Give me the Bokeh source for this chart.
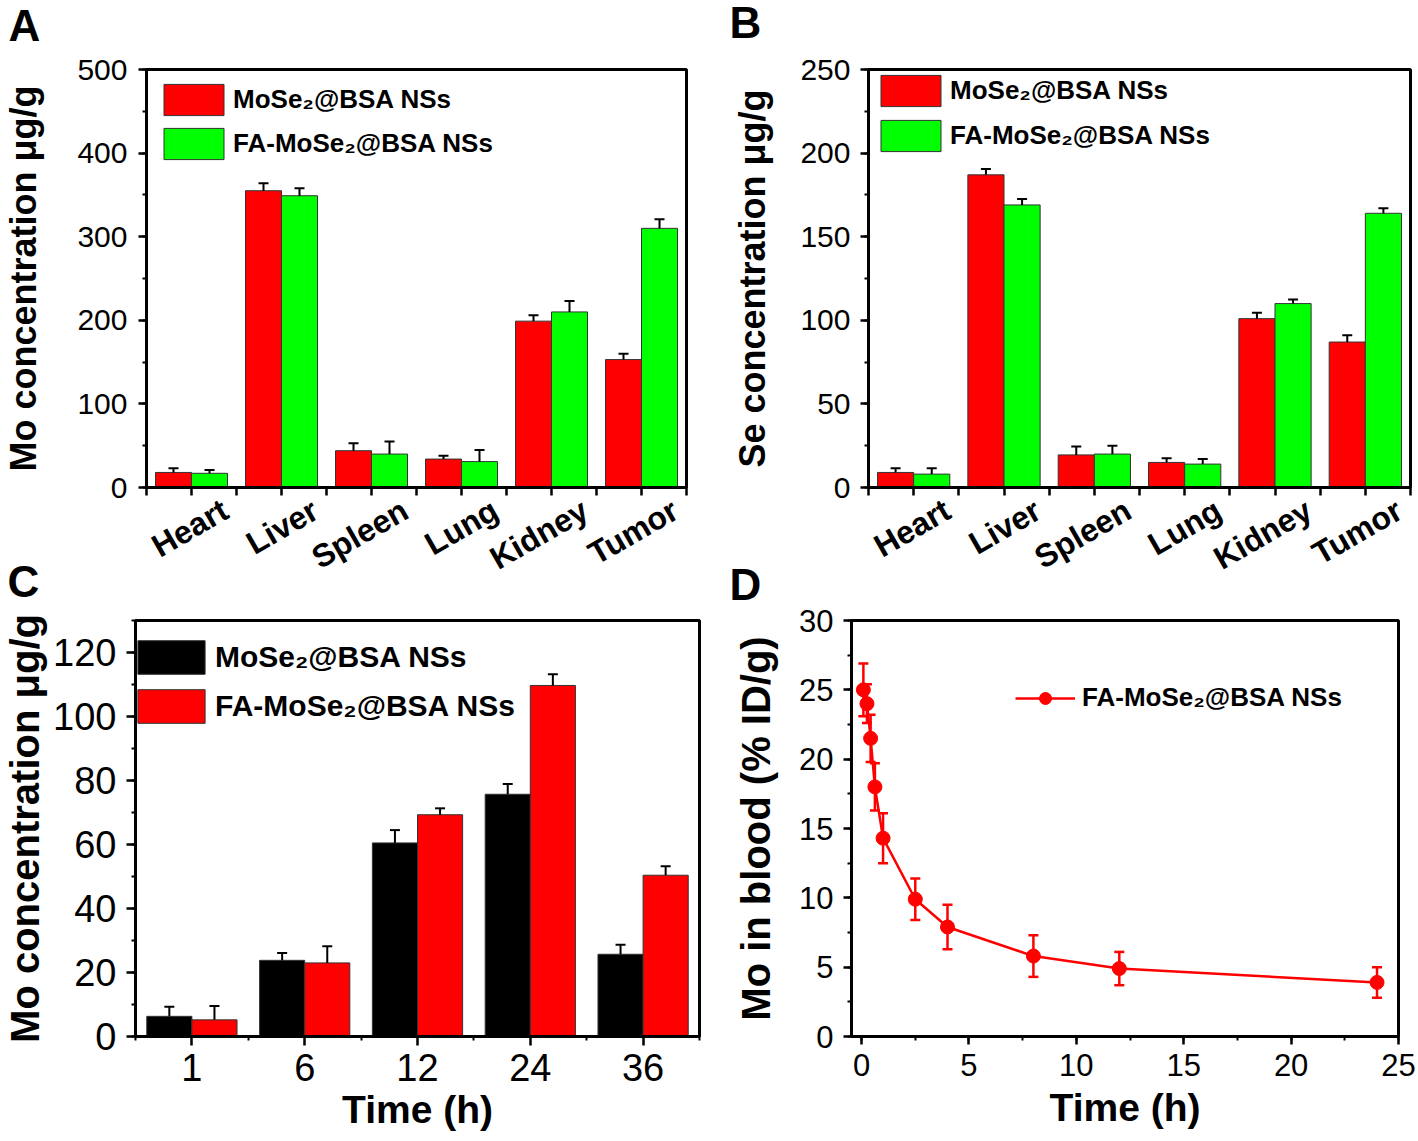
import math
from bokeh.plotting import figure
from bokeh.models import (ColumnDataSource, Range1d, FixedTicker, SingleIntervalTicker,
                          Whisker, TeeHead, Legend, LegendItem, Title)
from bokeh.layouts import column, row
from bokeh.embed import file_html
from bokeh.resources import INLINE

# ---------------- data ----------------
organs = ["Heart", "Liver", "Spleen", "Lung", "Kidney", "Tumor"]
mo_plain = [18, 355, 44, 34, 199, 153]
mo_plain_err = [5, 9, 9, 4, 7, 7]
mo_fa = [17, 349, 40, 31, 210, 310]
mo_fa_err = [4, 9, 15, 14, 13, 11]

se_plain = [9, 187, 19.5, 15, 101, 87]
se_plain_err = [2.5, 3.5, 5, 2.5, 3.5, 4]
se_fa = [8, 169, 20, 14, 110, 164]
se_fa_err = [3.5, 3.5, 5, 3, 2.5, 3]

times_c = ["1", "6", "12", "24", "36"]
tumor_plain = [6.3, 23.8, 60.5, 75.7, 25.7]
tumor_plain_err = [3, 2.3, 4, 3.2, 3]
tumor_fa = [5.2, 23, 69.3, 109.7, 50.4]
tumor_fa_err = [4.3, 5.2, 2, 3.5, 2.8]

blood_t = [0.083, 0.25, 0.42, 0.62, 1, 2.5, 4, 8, 12, 24]
blood_v = [25, 24, 21.5, 18, 14.3, 9.9, 7.9, 5.8, 4.9, 3.9]
blood_err = [1.9, 1.4, 1.7, 1.7, 1.8, 1.5, 1.6, 1.5, 1.2, 1.1]

name_plain = "MoSe\u2082@BSA NSs"
name_fa = "FA-MoSe\u2082@BSA NSs"
panel_letters = ["A", "B", "C", "D"]

FONT = "Liberation Sans"
RED = "#ff0000"
GREEN = "#00ff00"


def make_fig(w, h, bl, br, bt, bb, xr, yr, transparent=False):
    p = figure(width=w, height=h, x_range=xr, y_range=yr, output_backend="svg",
               toolbar_location=None, min_border_left=bl, min_border_right=br,
               min_border_top=bt, min_border_bottom=bb, title_location=None)
    p.xgrid.visible = False
    p.ygrid.visible = False
    p.outline_line_color = "black"
    p.outline_line_width = 3
    p.outline_line_alpha = 1
    p.background_fill_color = "white"
    p.border_fill_color = "white"
    if transparent:
        p.border_fill_alpha = 0
    for ax in (p.xaxis[0], p.yaxis[0]):
        ax.axis_line_width = 3
        ax.axis_line_color = "black"
        ax.major_tick_line_width = 2.5
        ax.minor_tick_line_width = 2
        ax.major_tick_line_color = "black"
        ax.minor_tick_line_color = "black"
        ax.major_tick_in = 0
        ax.major_tick_out = 8
        ax.minor_tick_in = 0
        ax.minor_tick_out = 4
        ax.major_label_text_font = FONT
        ax.major_label_text_color = "black"
        ax.axis_label_text_font = FONT
        ax.axis_label_text_font_style = "bold"
        ax.axis_label_text_color = "black"
    return p


def add_bars(p, n, s1, e1, s2, e2, c1, c2, err_color="black"):
    idx = list(range(1, n + 1))
    rs = []
    for sign, vals, errs, col in ((-1, s1, e1, c1), (1, s2, e2, c2)):
        src = ColumnDataSource(dict(x=[i + sign * 0.2 for i in idx], top=vals,
                                    up=[v + e for v, e in zip(vals, errs)]))
        r = p.vbar(x="x", top="top", bottom=0, width=0.4, source=src,
                   fill_color=col, line_color="#333333", line_width=1)
        p.add_layout(Whisker(source=src, base="x", lower="top", upper="up",
                             line_color=err_color, line_width=2, level="overlay",
                             upper_head=TeeHead(size=10, line_color=err_color, line_width=2),
                             lower_head=None))
        rs.append(r)
    return rs


def add_legend(p, items, loc, gw, gh, spacing, standoff, fsize):
    leg = Legend(items=items, location=loc, orientation="vertical",
                 glyph_width=gw, glyph_height=gh, label_height=gh,
                 spacing=spacing, label_standoff=standoff, padding=0, margin=0,
                 border_line_alpha=0, background_fill_alpha=0,
                 label_text_font=FONT, label_text_font_size=fsize,
                 label_text_font_style="bold", label_text_color="black")
    p.add_layout(leg)


def letter(p, txt, offset, standoff):
    p.add_layout(Title(text=txt, align="left", vertical_align="bottom", offset=offset,
                       standoff=standoff, text_font=FONT, text_font_size="44px",
                       text_font_style="bold", text_color="black"), "above")


def organ_panel(w, h, bl, br, bt, bb, ymax, interval, s1, e1, s2, e2, ylabel, tstand, lstand_y,
                leg_loc, spacing):
    n = len(organs)
    p = make_fig(w, h, bl, br, bt, bb, Range1d(0.5, n + 0.5), Range1d(0, ymax))
    r1, r2 = add_bars(p, n, s1, e1, s2, e2, RED, GREEN)
    # rotated category names end a little right of each group centre (as in the original);
    # the tick marks at the group centres and group borders are drawn as minor ticks
    d = 0.375
    xa = p.xaxis[0]
    xa.ticker = FixedTicker(ticks=[i + 1 + d for i in range(n)],
                            minor_ticks=[i * 0.5 + 0.5 for i in range(2 * n + 1)])
    xa.major_label_overrides = {i + 1 + d: name for i, name in enumerate(organs)}
    xa.major_label_orientation = math.pi / 6
    xa.major_tick_out = 0
    xa.major_tick_line_alpha = 0
    xa.minor_tick_out = 8
    xa.minor_tick_line_width = 2.5
    xa.major_label_standoff = 12
    xa.major_label_text_font_size = "32px"
    xa.major_label_text_font_style = "bold"
    ya = p.yaxis[0]
    ya.ticker = SingleIntervalTicker(interval=interval, num_minor_ticks=2)
    ya.major_label_text_font_size = "30px"
    ya.major_label_standoff = tstand
    ya.axis_label = ylabel
    ya.axis_label_text_font_size = "36px"
    ya.axis_label_standoff = lstand_y
    add_legend(p, [LegendItem(label=name_plain, renderers=[r1]),
                   LegendItem(label=name_fa, renderers=[r2])],
               leg_loc, 75, 39, spacing, 2, "26px")
    return p


# ---------------- panel A ----------------
pA = organ_panel(720, 640, 142, 34, 110, 109, 500, 100, mo_plain, mo_plain_err, mo_fa, mo_fa_err,
                 "Mo concentration \u03bcg/g", 11, 30, (10, 324), 5)
letter(pA, panel_letters[0], -138, 40)

# ---------------- panel B ----------------
pB = organ_panel(698, 640, 148, 8, 113, 108, 250, 50, se_plain, se_plain_err, se_fa, se_fa_err,
                 "Se concentration \u03bcg/g", 10, 24, (5, 332), 6)
letter(pB, panel_letters[1], -139, 46)

# ---------------- panel C ----------------
nC = len(times_c)
pC = make_fig(720, 631, 132, 21, 110, 105, Range1d(0.5, nC + 0.5), Range1d(0, 130),
              transparent=True)
c1, c2 = add_bars(pC, nC, tumor_plain, tumor_plain_err, tumor_fa, tumor_fa_err, "black", RED)
pC.xaxis[0].ticker = FixedTicker(ticks=list(range(1, nC + 1)),
                                 minor_ticks=[i + 0.5 for i in range(0, nC + 1)])
pC.xaxis[0].major_label_overrides = {i + 1: t for i, t in enumerate(times_c)}
pC.xaxis[0].major_tick_out = 9
pC.xaxis[0].major_label_text_font_size = "38px"
pC.xaxis[0].major_label_standoff = 8
pC.xaxis[0].axis_label = "Time (h)"
pC.xaxis[0].axis_label_text_font_size = "39px"
pC.xaxis[0].axis_label_standoff = 4
pC.yaxis[0].ticker = SingleIntervalTicker(interval=20, num_minor_ticks=2)
pC.yaxis[0].major_tick_out = 9
pC.yaxis[0].major_label_text_font_size = "38px"
pC.yaxis[0].major_label_standoff = 10
pC.yaxis[0].axis_label = "Mo concentration \u03bcg/g"
pC.yaxis[0].axis_label_text_font_size = "40px"
pC.yaxis[0].axis_label_standoff = 3
add_legend(pC, [LegendItem(label=name_plain, renderers=[c1]),
                LegendItem(label=name_fa, renderers=[c2])],
           (-6, 309), 84, 42, 7, 2, "30px")
letter(pC, panel_letters[2], -128, 30)

# ---------------- panel D ----------------
pD = make_fig(698, 631, 131, 20, 107, 105, Range1d(-0.47, 25), Range1d(0, 30), transparent=True)
srcD = ColumnDataSource(dict(t=blood_t, v=blood_v,
                             lo=[v - e for v, e in zip(blood_v, blood_err)],
                             hi=[v + e for v, e in zip(blood_v, blood_err)]))
pD.add_layout(Whisker(source=srcD, base="t", lower="lo", upper="hi", line_color=RED,
                      line_width=2.5, level="glyph",
                      upper_head=TeeHead(size=10, line_color=RED, line_width=2.5),
                      lower_head=TeeHead(size=10, line_color=RED, line_width=2.5)))
dl = pD.line("t", "v", source=srcD, line_color=RED, line_width=2.5)
ds = pD.scatter("t", "v", source=srcD, size=14, fill_color=RED, line_color=RED)
pD.xaxis[0].ticker = SingleIntervalTicker(interval=5, num_minor_ticks=2)
pD.xaxis[0].major_label_text_font_size = "31px"
pD.xaxis[0].major_label_standoff = 9
pD.xaxis[0].axis_label = "Time (h)"
pD.xaxis[0].axis_label_text_font_size = "39px"
pD.xaxis[0].axis_label_standoff = 7
pD.yaxis[0].ticker = SingleIntervalTicker(interval=5, num_minor_ticks=2)
pD.yaxis[0].major_label_text_font_size = "31px"
pD.yaxis[0].major_label_standoff = 10
pD.yaxis[0].axis_label = "Mo in blood (% ID/g)"
pD.yaxis[0].axis_label_text_font_size = "40px"
pD.yaxis[0].axis_label_standoff = 18
add_legend(pD, [LegendItem(label=name_fa, renderers=[dl, ds])],
           (164, 323), 60, 30, 0, 7, "26px")
letter(pD, panel_letters[3], -122, 24)

layout = column(row(pA, pB, margin=(-44, 0, 0, 0)),
                row(pC, pD, margin=(-86, 0, 0, 0)))
open("out.html", "w").write(file_html(layout, INLINE))
